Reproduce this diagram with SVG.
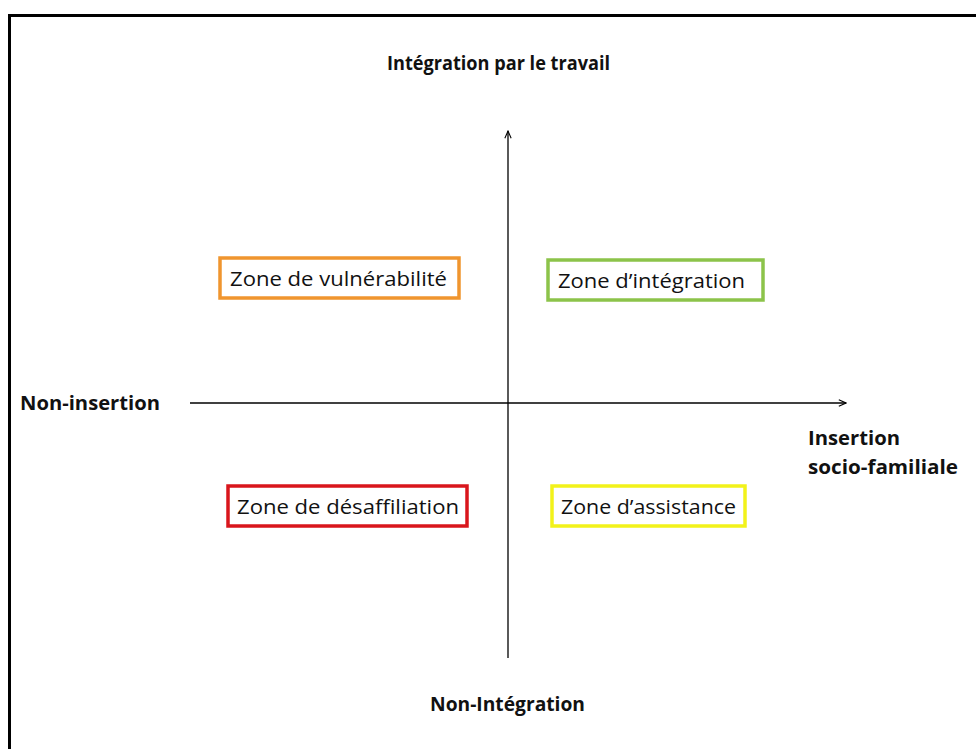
<svg xmlns="http://www.w3.org/2000/svg" width="976" height="749" viewBox="0 0 976 749">
  <style>
    .frame { stroke: #000; stroke-width: 3; fill: none; }
    .axis { stroke: #000; stroke-width: 1.3; fill: none; }
    .zone { fill: #fff; stroke-width: 3.5; }
    .label { font-family: "Open Sans", "Liberation Sans", sans-serif; font-size: 20.5px; fill: #111; }
    .title { font-family: "Open Sans", "Liberation Sans", sans-serif; font-size: 20px; font-weight: bold; fill: #111; }
  </style>
  <defs>
    <marker id="open-arrow" viewBox="0 0 10 10" refX="9" refY="5" markerWidth="9" markerHeight="9" markerUnits="userSpaceOnUse" orient="auto">
      <path d="M1,1.5 L9,5 L1,8.5" fill="none" stroke="#000" stroke-width="1.2"/>
    </marker>
  </defs>
  <rect width="976" height="749" fill="#fff"/>
  <!-- outer frame (left and top edges) -->
  <path class="frame" d="M9.5,749 L9.5,15.5 L976,15.5"/>

  <!-- axes -->
  <g id="connectors">
    <line class="axis" x1="508" y1="658" x2="508" y2="131" marker-end="url(#open-arrow)"/>
    <line class="axis" x1="190" y1="403" x2="846" y2="403" marker-end="url(#open-arrow)"/>
  </g>

  <!-- axis labels -->
  <g id="label-top"><text class="title" x="387" y="70" textLength="223" lengthAdjust="spacingAndGlyphs">Intégration par le travail</text></g>
  <g id="label-left"><text class="title" x="20" y="410" textLength="140" lengthAdjust="spacingAndGlyphs">Non-insertion</text></g>
  <g id="label-right">
    <text class="title" x="808" y="445" textLength="92" lengthAdjust="spacingAndGlyphs">Insertion</text>
    <text class="title" x="808" y="474" textLength="150" lengthAdjust="spacingAndGlyphs">socio-familiale</text>
  </g>
  <g id="label-bottom"><text class="title" x="430" y="711" textLength="155" lengthAdjust="spacingAndGlyphs">Non-Intégration</text></g>

  <!-- zones -->
  <g id="zone-vulnerabilite">
    <rect class="zone" x="220" y="258" width="239" height="40" stroke="#f0952e"/>
    <text class="label" x="230" y="286" textLength="217" lengthAdjust="spacingAndGlyphs">Zone de vulnérabilité</text>
  </g>
  <g id="zone-integration">
    <rect class="zone" x="548" y="260" width="215" height="40" stroke="#8cc34a"/>
    <text class="label" x="558" y="288" textLength="187" lengthAdjust="spacingAndGlyphs">Zone d’intégration</text>
  </g>
  <g id="zone-desaffiliation">
    <rect class="zone" x="228" y="486" width="239" height="40" stroke="#d9161c"/>
    <text class="label" x="237" y="514" textLength="222" lengthAdjust="spacingAndGlyphs">Zone de désaffiliation</text>
  </g>
  <g id="zone-assistance">
    <rect class="zone" x="552" y="486" width="193" height="40" stroke="#f2f21a"/>
    <text class="label" x="561" y="514" textLength="175" lengthAdjust="spacingAndGlyphs">Zone d’assistance</text>
  </g>
</svg>
